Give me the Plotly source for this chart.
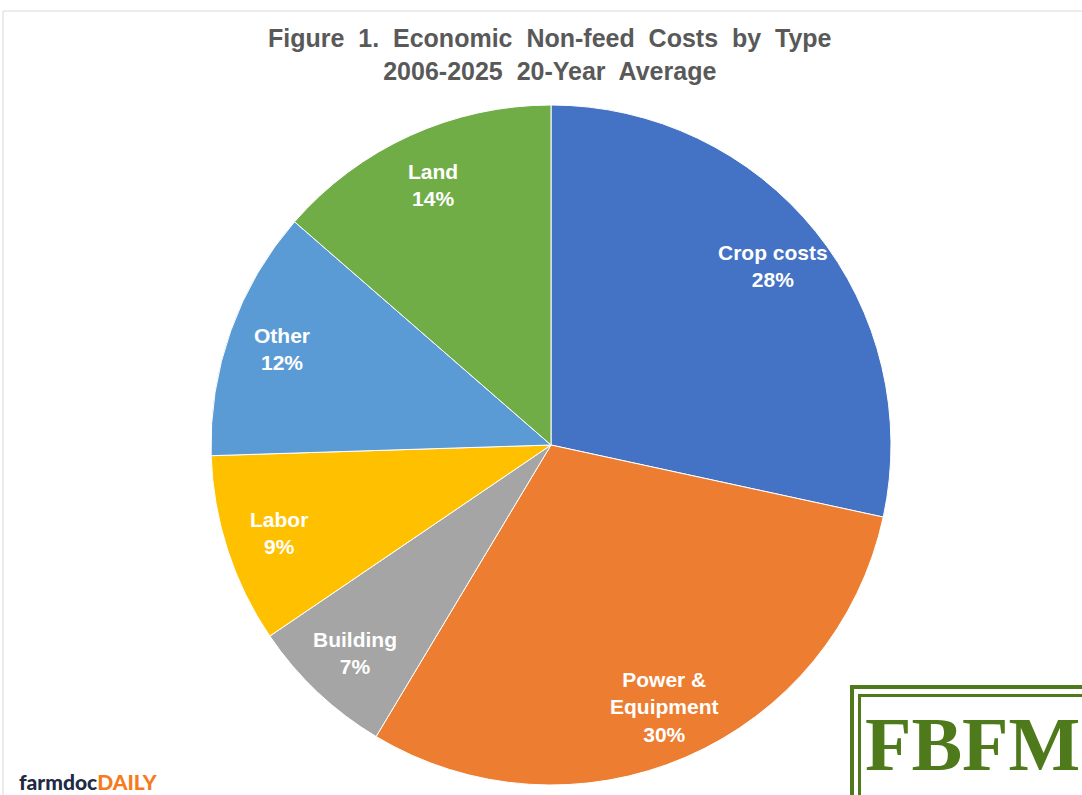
import math
import plotly.graph_objects as go

categories = ["Crop costs", "Power &<br>Equipment", "Building", "Labor", "Other", "Land"]
values = [28.4, 30.2, 6.9, 9.0, 11.9, 13.6]
colors = ["#4472C4", "#ED7D31", "#A5A5A5", "#FFC000", "#5B9BD5", "#70AD47"]

W, H = 1082, 795
CX, CY, R = 551, 445, 340          # pie centre and radius in pixels
LABEL_R = 0.84                      # label distance as a fraction of the radius

fig = go.Figure(go.Pie(
    labels=categories,
    values=values,
    sort=False,
    direction="clockwise",
    rotation=0,
    marker=dict(colors=colors, line=dict(color="white", width=1)),
    textinfo="none",
    hoverinfo="label+percent",
    showlegend=False,
    domain=dict(x=[(CX - R) / W, (CX + R) / W], y=[1 - (CY + R) / H, 1 - (CY - R) / H]),
))

# data labels placed along each slice's mid-angle (derived from the values)
total = sum(values)
annotations = []
cum = 0.0
for lab, v in zip(categories, values):
    mid = (cum + v / 2) / total * 2 * math.pi  # clockwise from 12 o'clock
    cum += v
    px = CX + LABEL_R * R * math.sin(mid)
    py = CY - LABEL_R * R * math.cos(mid)
    annotations.append(dict(
        text=f"{lab}<br>{round(v / total * 100):d}%",
        x=px / W, y=1 - py / H, xref="paper", yref="paper",
        showarrow=False, xanchor="center", yanchor="middle", align="center",
        font=dict(family="Arial, Liberation Sans, sans-serif", size=21, color="white", weight="bold"),
    ))

# title
annotations.append(dict(
    text="Figure  1.  Economic  Non-feed  Costs  by  Type<br>2006-2025  20-Year  Average",
    x=550 / W, y=1 - 55 / H, xref="paper", yref="paper", showarrow=False,
    xanchor="center", yanchor="middle", align="center",
    font=dict(family="Arial, Liberation Sans, sans-serif", size=25, color="#595959", weight="bold"),
))

# logos
annotations += [
    dict(text="FBFM", x=973 / W, y=1 - 744 / H, xref="paper", yref="paper",
         showarrow=False, xanchor="center", yanchor="middle",
         font=dict(family="Liberation Serif, DejaVu Serif, serif", size=76, color="#4F7A1B", weight="bold")),
    dict(text="farmdoc<span style='color:#F47B20'>DAILY</span>",
         x=17 / W, y=1 - 781 / H, xref="paper", yref="paper", showarrow=False,
         xanchor="left", yanchor="middle",
         font=dict(family="Lato, Open Sans, sans-serif", size=21, color="#1F2A44", weight=900)),
]

shapes = [
    # outer chart border
    dict(type="rect", xref="paper", yref="paper", x0=3 / W, x1=1.01, y0=-0.01, y1=1 - 11 / H,
         line=dict(color="#D9D9D9", width=1), fillcolor="rgba(0,0,0,0)", layer="below"),
    # FBFM logo frame
    dict(type="rect", xref="paper", yref="paper", x0=850 / W, x1=1.02, y0=-0.02, y1=1 - 685 / H,
         line=dict(width=0), fillcolor="#4F7A1B", layer="above"),
    dict(type="rect", xref="paper", yref="paper", x0=854 / W, x1=1.02, y0=-0.02, y1=1 - 689 / H,
         line=dict(width=0), fillcolor="white", layer="above"),
    dict(type="rect", xref="paper", yref="paper", x0=858 / W, x1=1.02, y0=-0.02, y1=1 - 694 / H,
         line=dict(width=0), fillcolor="#4F7A1B", layer="above"),
    dict(type="rect", xref="paper", yref="paper", x0=861 / W, x1=1.02, y0=-0.02, y1=1 - 697 / H,
         line=dict(width=0), fillcolor="white", layer="above"),
]

fig.update_layout(
    width=W, height=H,
    margin=dict(l=0, r=0, t=0, b=0),
    paper_bgcolor="white",
    plot_bgcolor="white",
    shapes=shapes,
    annotations=annotations,
)

fig.write_html("out.html")
